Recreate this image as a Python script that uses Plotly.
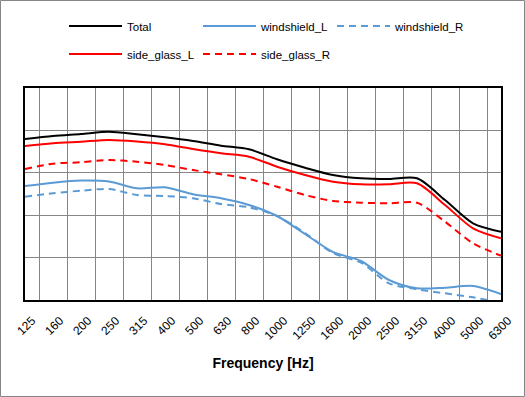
import plotly.graph_objects as go

freqs = ["125", "160", "200", "250", "315", "400", "500", "630", "800", "1000",
         "1250", "1600", "2000", "2500", "3150", "4000", "5000", "6300"]

total = [37.97, 38.68, 39.15, 39.69, 39.08, 38.37, 37.5, 36.39, 35.54, 33.18,
         31.2, 29.48, 28.70, 28.54, 28.70, 23.58, 18.09, 16.1]
windshield_L = [26.89, 27.67, 28.18, 27.95, 26.34, 26.58, 24.93, 23.99, 22.41, 19.81,
                15.57, 11.32, 9.2, 4.72, 2.76, 2.9, 3.3, 1.42]
windshield_R = [24.36, 25.17, 25.78, 26.18, 24.76, 24.53, 23.99, 22.64, 21.86, 19.81,
                15.8, 11.08, 8.8, 3.94, 2.52, 1.58, 0.64, -0.7]
side_glass_L = [36.32, 36.96, 37.33, 37.74, 37.38, 36.72, 35.61, 34.6, 33.8, 31.44,
                29.48, 27.9, 27.29, 27.29, 27.52, 22.41, 16.91, 14.55]
side_glass_R = [30.9, 32.15, 32.48, 33.02, 32.62, 31.84, 30.66, 29.65, 28.54, 26.72,
                24.76, 23.35, 22.95, 22.81, 22.95, 18.47, 13.37, 10.45]

W, H = 525, 397
ML, MR, MT, MB = 25, 24, 88, 97
PW, PH = W - ML - MR, H - MT - MB

BLUE = "#5B9BD5"
RED = "#FF0000"
font = "Liberation Sans"

fig = go.Figure()

def add(name, y, color, dash, legend):
    fig.add_trace(go.Scatter(
        x=freqs, y=y, name=name, mode="lines",
        line=dict(color=color, width=2, dash=dash, shape="spline", smoothing=0.8),
        legend=legend,
    ))

add("Total", total, "#000000", "solid", "legend")
add("windshield_L", windshield_L, BLUE, "solid", "legend")
add("windshield_R", windshield_R, BLUE, "7px,5px", "legend")
add("side_glass_L", side_glass_L, RED, "solid", "legend2")
add("side_glass_R", side_glass_R, RED, "7px,5px", "legend2")

def px2x(p):
    return (p - ML) / PW

def py2y(p):
    return (H - MB - p) / PH

leg_common = dict(orientation="h", xanchor="left", yanchor="middle",
                  font=dict(family=font, size=11.5, color="#000000"),
                  itemwidth=53, entrywidth=66,
                  bgcolor="rgba(0,0,0,0)", traceorder="normal")

fig.update_layout(
    width=W, height=H,
    margin=dict(l=ML, r=MR, t=MT, b=MB, autoexpand=False),
    paper_bgcolor="white", plot_bgcolor="white",
    font=dict(family=font, size=12, color="#000000"),
    showlegend=True,
    legend=dict(x=px2x(64), y=py2y(26), **leg_common),
    legend2=dict(x=px2x(64), y=py2y(54), **leg_common),
    xaxis=dict(
        type="category", tickson="boundaries", showgrid=True, automargin=False,
        gridcolor="#868686", gridwidth=1, ticks="",
        tickangle=-45, tickfont=dict(family=font, size=12, color="#000000"),
        ticklabelstandoff=7, ticklabelshift=7,
        showline=True, linecolor="#000000", linewidth=2, mirror=True,
        title=dict(text="<b>Frequency [Hz]</b>", font=dict(family=font, size=14),
                   standoff=17),
    ),
    yaxis=dict(
        range=[0, 50], dtick=10, showticklabels=False, ticks="", automargin=False,
        showgrid=True, gridcolor="#868686", gridwidth=1, zeroline=False,
        showline=True, linecolor="#000000", linewidth=2, mirror=True,
    ),
    shapes=[dict(type="rect", xref="paper", yref="paper",
                 x0=px2x(0.5), x1=px2x(W - 0.5), y0=py2y(H - 0.5), y1=py2y(0.5),
                 line=dict(color="#868686", width=1), layer="below")],
)

fig.write_html("out.html", config={"displayModeBar": False},
               post_script="document.body.style.margin='0';document.body.style.overflow='hidden';")
